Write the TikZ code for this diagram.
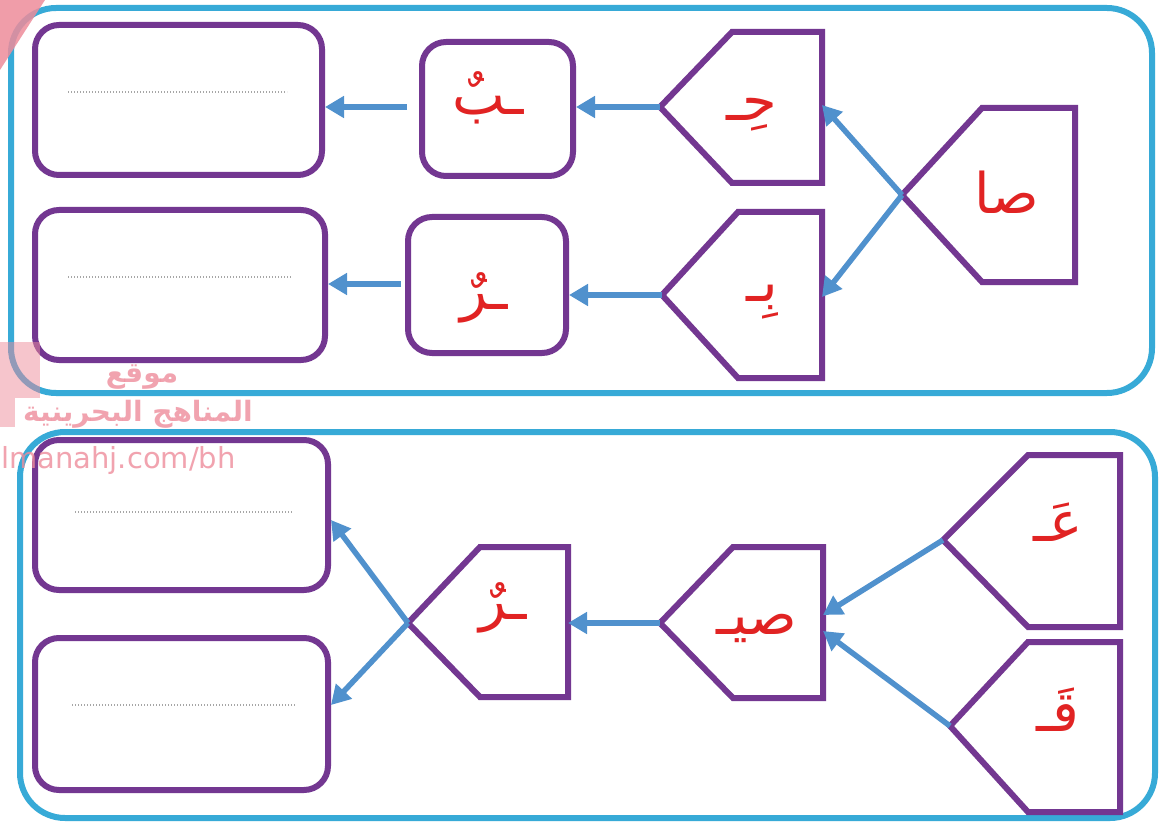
\documentclass[tikz,border=0pt]{standalone}
\usepackage{fontspec}
\usetikzlibrary{arrows.meta}
\TeXXeTstate=1
\newfontfamily\arabicfont[Script=Arabic]{DejaVu Sans}
\newfontfamily\wmfont{DejaVu Sans}
\definecolor{purp}{RGB}{115,55,145}
\definecolor{frameblue}{RGB}{55,170,215}
\definecolor{arrblue}{RGB}{80,145,205}
\definecolor{letred}{RGB}{225,35,35}
\definecolor{wmpink}{RGB}{238,140,155}
\newcommand\pent[7]{% name, tipx, tipy, leftx, rightx, topy, boty
  \draw[pentline] (#2,#3) -- (#4,#6) -- (#5,#6) -- (#5,#7) -- (#4,#7) -- cycle;
  \coordinate (#1-tip) at (#2,#3);
  \coordinate (#1-r) at (#5,#3);
}
\newcommand\ar[1]{{\arabicfont\beginR #1\endR}}
\begin{document}
\begin{tikzpicture}[x=1pt,y=-1pt,
  frame/.style={draw=frameblue,line width=6pt,rounded corners=45pt},
  pentline/.style={draw=purp,line width=6pt,line join=miter},
  rbox/.style={draw=purp,line width=6pt,rounded corners=24pt,inner sep=0pt},
  letter/.style={text=letred,font=\fontsize{56}{64}\selectfont,inner sep=0pt},
  conn/.style={draw=arrblue,line width=5.5pt,-{Triangle[length=19pt,width=21pt]}},
  dots/.style={draw=gray!70,line width=1.4pt,dash pattern=on 1.4pt off 1.6pt},
  wm/.style={text=wmpink,opacity=0.8,inner sep=0pt}]
\useasboundingbox (0,0) rectangle (1161,826);
\fill[white] (0,0) rectangle (1161,826);
% outer frames
\draw[frame] (11,8) rectangle (1152,393);
\draw[frame] (20,432) rectangle (1155,818);
% answer boxes
\node[rbox,minimum width=287pt,minimum height=150pt] (R1) at (178.5,100) {};
\node[rbox,minimum width=290pt,minimum height=150pt] (R2) at (180,285) {};
\node[rbox,minimum width=293pt,minimum height=150pt] (R3) at (181.5,515) {};
\node[rbox,minimum width=293pt,minimum height=152pt] (R4) at (181.5,714) {};
\draw[dots] (68,92) -- (287,92);
\draw[dots] (68,277) -- (292,277);
\draw[dots] (75,512) -- (292,512);
\draw[dots] (72,705) -- (295,705);
% small boxes
\node[rbox,minimum width=151pt,minimum height=134pt] (B1) at (497.5,109) {};
\node[rbox,minimum width=158pt,minimum height=136pt] (B2) at (487,285) {};
% pentagons
\pent{P1}{660}{107}{732}{822}{32}{183}
\pent{P2}{662}{295}{738}{822}{212}{378}
\pent{P3}{902}{195}{982}{1075}{108}{282}
\pent{P4}{408}{623}{480}{568}{547}{697}
\pent{P5}{660}{623}{733}{823}{547}{698}
\pent{P6}{943}{540}{1028}{1120}{455}{627}
\pent{P7}{950}{726}{1028}{1120}{642}{812}
% letters
\node[letter] (L1) at (752,115) {\ar{حِـ}};
\node[letter] (L2) at (762,302) {\ar{بِـ}};
\node[letter] (L3) at (1007,192) {\ar{صا}};
\node[letter] (L4) at (488,98) {\ar{ـبٌ}};
\node[letter] (L5) at (484,298) {\ar{ـرٌ}};
\node[letter] (L6) at (503,608) {\ar{ـرٌ}};
\node[letter] (L7) at (757,628) {\ar{صيـ}};
\node[letter] (L8) at (1058,522) {\ar{عَـ}};
\node[letter] (L9) at (1058,710) {\ar{قَـ}};
% connectors
\coordinate (P1in) at (822,105);
\coordinate (P2in) at (822,297);
\draw[conn] (P3-tip) -- (P1in);
\draw[conn] (P3-tip) -- (P2in);
\draw[conn] (P1-tip) -- (B1.east |- P1-tip);
\draw[conn] (P2-tip) -- (B2.east |- P2-tip);
\draw[conn,shorten <=12pt] (B1.west |- 0,107) -- (R1.east |- 0,107);
\draw[conn,shorten <=4pt] (B2.west |- 0,284) -- (R2.east |- 0,284);
\coordinate (P5inA) at (823,615);
\coordinate (P5inB) at (823,631);
\draw[conn] (P6-tip) -- (P5inA);
\draw[conn] (P7-tip) -- (P5inB);
\draw[conn] (P5-tip) -- (P4-r);
\draw[conn] (P4-tip) -- (R3.east |- 0,520);
\draw[conn] (P4-tip) -- (R4.east |- 0,705);
% watermark
\fill[wmpink,opacity=0.85] (0,0) -- (45,0) -- (0,70) -- cycle;
\fill[wmpink,opacity=0.5] (0,342) rectangle (40,398);
\fill[wmpink,opacity=0.5] (0,398) rectangle (15,427);
\node[wm,font=\arabicfont\bfseries\fontsize{28}{32}\selectfont] (W1) at (142,377) {\beginR موقع\endR};
\node[wm,font=\arabicfont\bfseries\fontsize{28}{32}\selectfont] (W2) at (138,414) {\beginR المناهج البحرينية\endR};
\node[wm,font=\wmfont\fontsize{29}{34}\selectfont,anchor=west] (W3) at (1,460) {lmanahj.com/bh};
\end{tikzpicture}
\end{document}
